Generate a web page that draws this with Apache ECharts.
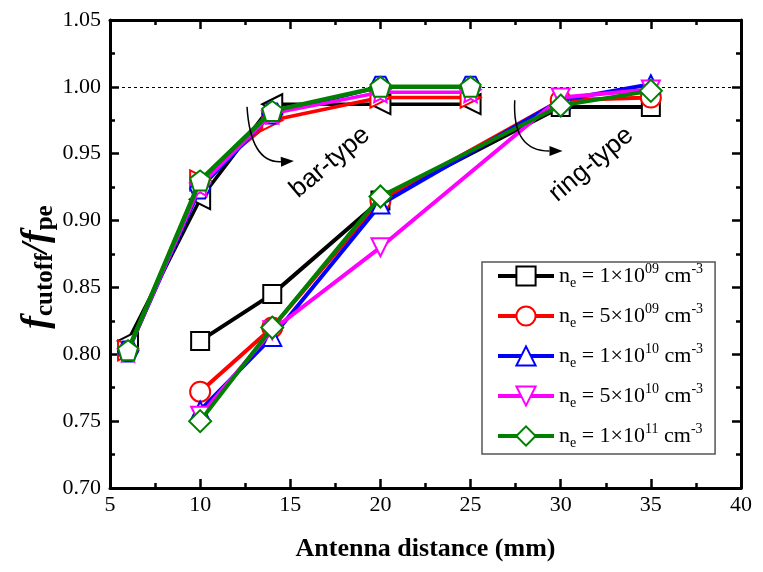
<!DOCTYPE html>
<html>
<head>
<meta charset="utf-8">
<script src="https://cdn.jsdelivr.net/npm/echarts@6/dist/echarts.min.js"></script>
<style>
  html, body { margin: 0; padding: 0; background: #fff; }
  #chart { width: 763px; height: 572px; }
</style>
</head>
<body>
<div id="chart"></div>
<script>
// Antenna spacing (mm) for the two antenna geometries
const barDistance = [6, 10, 14, 20, 25];
const ringDistance = [10, 14, 20, 30, 35];

// Electron densities: coefficient and exponent of n_e (cm^-3)
const densityCoef = ['1', '5', '1', '5', '1'];
const densityExp = ['09', '09', '10', '10', '11'];
const seriesColors = ['#000000', '#ff0000', '#0000ff', '#ff00ff', '#008000'];

// f_cutoff / f_pe, bar-type antenna
const barBlack = [0.810, 0.916, 0.987, 0.987, 0.987];
const barRed = [0.803, 0.930, 0.975, 0.992, 0.992];
const barBlue = [0.802, 0.924, 0.980, 1.000, 1.000];
const barMagenta = [0.802, 0.926, 0.980, 0.996, 0.996];
const barGreen = [0.803, 0.930, 0.982, 1.000, 1.000];

// f_cutoff / f_pe, ring-type antenna
const ringBlack = [0.810, 0.845, 0.915, 0.985, 0.985];
const ringRed = [0.772, 0.820, 0.915, 0.990, 0.992];
const ringBlue = [0.758, 0.813, 0.912, 0.990, 1.002];
const ringMagenta = [0.754, 0.818, 0.880, 0.992, 0.998];
const ringGreen = [0.750, 0.820, 0.918, 0.986, 0.997];

// Axis ticks
const xTicks = { min: 5, max: 40, step: 5 };
const yTicks = { min: 0.70, max: 1.05, step: 0.05 };

const barValues = [barBlack, barRed, barBlue, barMagenta, barGreen];
const ringValues = [ringBlack, ringRed, ringBlue, ringMagenta, ringGreen];

const legendNames = densityCoef.map((c, i) => 'n_e = ' + c + '×10^' + densityExp[i] + ' cm^-3');

const SERIF = '"Liberation Serif", "DejaVu Serif", serif';
const SANS = '"Liberation Sans", Arial, sans-serif';

const barSymbols = [
  'triangle',
  'triangle',
  'path://M-5,-8.66 L5,-8.66 L10,0 L5,8.66 L-5,8.66 L-10,0 Z',
  'path://M0,-10 L2.9,-4 L9.5,-3.1 L4.7,1.5 L5.9,8.1 L0,5 L-5.9,8.1 L-4.7,1.5 L-9.5,-3.1 L-2.9,-4 Z',
  'path://M0,-10 L9.51,-3.09 L5.88,8.09 L-5.88,8.09 L-9.51,-3.09 Z'
];
const barRotate = [90, -90, 0, 0, 0];
const ringSymbols = ['rect', 'circle', 'triangle', 'triangle', 'diamond'];
const ringRotate = [0, 0, 0, 180, 0];
const ringSizes = [18, 20, 18, 18, 22];

const pair = (xs, ys) => xs.map((x, i) => [x, ys[i]]);

const series = [];
barValues.forEach((vals, i) => {
  series.push({
    name: 'bar-type ' + i,
    type: 'line',
    data: pair(barDistance, vals),
    symbol: barSymbols[i],
    symbolRotate: barRotate[i],
    symbolSize: 20,
    showAllSymbol: true,
    z: 2 + i,
    lineStyle: { color: seriesColors[i], width: i === 4 ? 4.5 : 3.5 },
    itemStyle: { color: '#fff', borderColor: seriesColors[i], borderWidth: 2 },
    emphasis: { disabled: true },
    animation: false
  });
});
ringValues.forEach((vals, i) => {
  const s = {
    name: legendNames[i],
    type: 'line',
    data: pair(ringDistance, vals),
    symbol: ringSymbols[i],
    symbolRotate: ringRotate[i],
    symbolSize: ringSizes[i],
    showAllSymbol: true,
    z: 10 + i,
    lineStyle: { color: seriesColors[i], width: 4 },
    itemStyle: { color: '#fff', borderColor: seriesColors[i], borderWidth: 2 },
    emphasis: { disabled: true },
    animation: false
  };
  if (i === 0) {
    s.markLine = {
      silent: true,
      symbol: 'none',
      label: { show: false },
      lineStyle: { color: '#000', type: [3, 3], width: 1 },
      data: [{ yAxis: 1.0 }]
    };
  }
  series.push(s);
});

const axisBase = {
  type: 'value',
  axisLine: { show: true, lineStyle: { color: '#000', width: 3 } },
  axisTick: { show: true, inside: true, length: 9, lineStyle: { color: '#000', width: 2.5 } },
  minorTick: { show: true, splitNumber: 2, length: 5, lineStyle: { color: '#000', width: 2.5 } },
  splitLine: { show: false },
  minorSplitLine: { show: false }
};

const chart = echarts.init(document.getElementById('chart'), null, { renderer: 'canvas' });

chart.setOption({
  backgroundColor: '#fff',
  animation: false,
  grid: { left: 110, right: 22, top: 20, bottom: 84, containLabel: false },
  xAxis: [
    Object.assign({}, axisBase, {
      position: 'bottom',
      min: xTicks.min, max: xTicks.max, interval: xTicks.step,
      axisLabel: { color: '#000', fontFamily: SERIF, fontSize: 22, margin: 6 },
      name: 'Antenna distance (mm)',
      nameLocation: 'middle',
      nameGap: 48,
      nameMoveOverlap: false,
      nameTextStyle: { color: '#000', fontFamily: SERIF, fontSize: 26, fontWeight: 'bold' }
    }),
    Object.assign({}, axisBase, {
      position: 'top',
      min: xTicks.min, max: xTicks.max, interval: xTicks.step,
      axisLabel: { show: false }
    })
  ],
  yAxis: [
    Object.assign({}, axisBase, {
      position: 'left',
      min: yTicks.min, max: yTicks.max, interval: yTicks.step,
      axisLabel: { color: '#000', fontFamily: SERIF, fontSize: 22, margin: 9,
        formatter: v => v.toFixed(2) },
      name: '{f|f}{s|cutoff}{f|/f}{s|pe}',
      nameLocation: 'middle',
      nameRotate: 90,
      nameGap: 52,
      nameMoveOverlap: false,
      nameTextStyle: {
        color: '#000',
        padding: [0, 26, 0, 0],
        rich: {
          f: { fontFamily: SERIF, fontSize: 38, fontStyle: 'italic', fontWeight: 'bold', lineHeight: 42, verticalAlign: 'middle' },
          s: { fontFamily: SERIF, fontSize: 25, fontWeight: 'bold', lineHeight: 18, verticalAlign: 'bottom' }
        }
      }
    }),
    Object.assign({}, axisBase, {
      position: 'right',
      min: yTicks.min, max: yTicks.max, interval: yTicks.step,
      axisLabel: { show: false }
    })
  ],
  legend: {
    data: legendNames,
    orient: 'vertical',
    left: 482,
    top: 262,
    width: 234,
    padding: [0, 12, 4, 14],
    itemGap: 12,
    itemWidth: 56,
    itemHeight: 24,
    backgroundColor: '#fff',
    borderColor: '#555',
    borderWidth: 1.5,
    borderRadius: 0,
    selectedMode: false,
    lineStyle: { width: 4 },
    formatter: name => {
      const i = legendNames.indexOf(name);
      return '{t|n}{sub|e}{t| = ' + densityCoef[i] + '×10}{sup|' + densityExp[i] + '}{t| cm}{sup|-3}';
    },
    textStyle: {
      color: '#000',
      rich: {
        t: { fontFamily: SERIF, fontSize: 22, lineHeight: 28, verticalAlign: 'middle', color: '#000' },
        sub: { fontFamily: SERIF, fontSize: 14, lineHeight: 8, verticalAlign: 'bottom', color: '#000' },
        sup: { fontFamily: SERIF, fontSize: 14, lineHeight: 8, verticalAlign: 'top', color: '#000' }
      }
    }
  },
  series: series
});

// Annotations placed in data coordinates: curved arrows and geometry labels
function px(x, y) { return chart.convertToPixel({ gridIndex: 0 }, [x, y]); }

function curvedArrow(start, ctrl, end) {
  const a = px(start[0], start[1]);
  const c = px(ctrl[0], ctrl[1]);
  const b = px(end[0], end[1]);
  const ang = Math.atan2(b[1] - c[1], b[0] - c[0]);
  const L = 13, W = 5;
  const back = [b[0] - L * Math.cos(ang), b[1] - L * Math.sin(ang)];
  const head = [
    b,
    [back[0] + W * Math.sin(ang), back[1] - W * Math.cos(ang)],
    [back[0] - W * Math.sin(ang), back[1] + W * Math.cos(ang)]
  ];
  return [
    {
      type: 'bezierCurve', z: 50,
      shape: { x1: a[0], y1: a[1], cpx1: c[0], cpy1: c[1], x2: back[0], y2: back[1] },
      style: { stroke: '#000', lineWidth: 1.5, fill: null }
    },
    {
      type: 'polygon', z: 50,
      shape: { points: head },
      style: { fill: '#000' }
    }
  ];
}

function rotatedLabel(text, x, y) {
  const p = px(x, y);
  return {
    type: 'text', z: 50,
    x: p[0], y: p[1],
    rotation: 0.7,
    style: { text: text, fontFamily: SANS, fontSize: 26, fill: '#000', align: 'center', verticalAlign: 'middle' }
  };
}

chart.setOption({
  graphic: [].concat(
    curvedArrow([12.6, 0.985], [12.8, 0.943], [15.2, 0.9445]),
    curvedArrow([27.45, 0.990], [27.3, 0.952], [30.1, 0.952]),
    [rotatedLabel('bar-type', 17.2, 0.9435), rotatedLabel('ring-type', 31.7, 0.9420)]
  )
});
</script>
</body>
</html>
